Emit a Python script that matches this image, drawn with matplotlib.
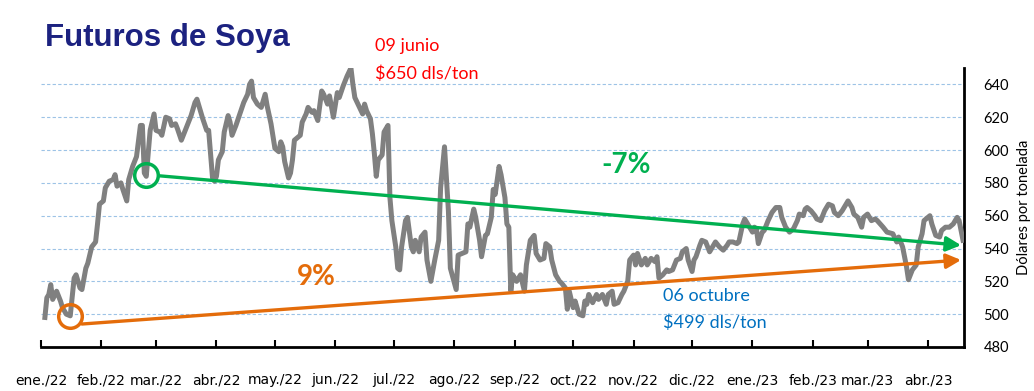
import matplotlib
matplotlib.use("Agg")
import matplotlib.pyplot as plt
import pandas as pd

# datos: dias desde 2022-01-01 y precio (dls/ton)
dias = [2, 3, 4, 5, 6, 8, 10, 11, 13, 15, 17, 18, 20, 21, 23, 24, 26, 28, 29, 30,
        32, 33, 35, 37, 38, 39, 41, 42, 44, 45, 47, 49, 51, 52, 53, 54, 56, 58, 59, 61,
        62, 64, 66, 67, 69, 70, 72, 74, 75, 77, 79, 80, 81, 83, 85, 86, 88, 89, 90, 91,
        93, 94, 96, 97, 98, 100, 102, 104, 106, 107, 108, 109, 111, 113, 115, 116, 118, 120, 122,
        123, 124, 125, 127, 128, 129, 130, 133, 134, 136, 137, 139, 140, 142, 144, 145, 147, 148,
        150, 152, 153, 155, 157, 159, 160, 161, 163, 165, 166, 167, 169, 170, 171, 172, 173, 175,
        176, 178, 179, 180, 182, 183,
        184, 185, 187, 188, 190, 191, 192, 194, 195, 197, 198, 200, 202, 204, 205, 207, 209, 210,
        213, 214, 216, 218, 219, 220, 222, 223, 225, 226, 228, 229, 231, 232, 233, 235, 236, 238,
        239, 240, 241, 242, 244, 246, 248, 249, 251, 253, 254, 256, 258, 259, 261, 262, 264, 266,
        267, 269, 270, 271, 273, 274, 276, 278, 279, 280, 281, 283, 285, 286, 288, 290, 291, 293,
        294, 296, 298, 299, 301, 302, 304, 305, 306, 308, 310, 311, 313, 315, 316, 317, 319, 321,
        322, 324, 326, 328, 329, 331, 332, 334, 335, 336, 338, 339, 341, 343, 345, 346, 348, 350,
        352, 353, 355, 357, 358, 360, 361, 363, 365, 366, 367, 368, 370, 371, 373, 375, 377, 379,
        380, 382, 384, 386, 388, 389, 391, 392, 393, 395, 397, 398, 400, 402, 404, 406, 407, 409,
        411, 412, 414, 416, 417, 419, 421, 422, 424, 426, 428, 429, 432, 434, 437, 439, 440, 442,
        444, 445, 447, 449, 450, 452, 453, 456, 457, 459, 461, 462, 464, 466, 468, 470, 471, 473]
precio = [498, 510, 512, 518, 509, 514, 508, 504, 500, 499, 522, 524, 516, 515, 528, 531, 541, 544, 555, 567,
          569, 577, 581, 582, 585, 578, 580, 576, 569, 582, 590, 596, 615, 615, 586, 584, 612, 622, 612, 611,
          609, 620, 619, 615, 616, 613, 606, 612, 615, 621, 629, 631, 627, 619, 612, 612, 583, 581, 584, 594,
          599, 611, 621, 617, 609, 615, 622, 629, 634, 640, 642, 632, 628, 626, 634, 627, 616, 601, 599,
          605, 602, 593, 583, 586, 594, 606, 609, 617, 622, 626, 623, 624, 618, 636, 634, 628, 633,
          620, 635, 632, 639, 645, 650, 640, 632, 627, 622, 628, 624, 619, 610, 598, 584, 594, 597,
          611, 615, 571, 557, 541, 528,
          527, 541, 557, 559, 541, 538, 545, 538, 547, 550, 533, 520, 533, 545, 577, 602, 563, 528,
          515, 536, 537, 538, 555, 553, 564, 559, 545, 535, 548, 549, 559, 576, 573, 590, 585, 571,
          555, 553, 514, 524, 520, 524, 514, 530, 545, 548, 537, 533, 534, 543, 541, 533, 524, 520,
          519, 516, 503, 514, 504, 508, 500, 499, 508, 506, 512, 507, 512, 509, 512, 506, 512, 514,
          506, 507, 512, 514, 520, 533, 536, 530, 537, 530, 534, 530, 534, 532, 535, 522, 524, 527,
          526, 527, 533, 534, 538, 540, 533, 526, 533, 535, 542, 545, 544, 538, 542, 544, 541, 539,
          542, 544, 544, 543, 544, 555, 558, 554, 550, 553, 552, 543, 550, 551, 557, 562, 565, 565,
          559, 553, 550, 552, 557, 561, 560, 564, 565, 563, 560, 558, 557, 563, 567, 566, 562, 560,
          563, 565, 569, 565, 561, 559, 553, 559, 561, 557, 558, 557, 553, 550, 549, 544, 547, 541,
          529, 521, 527, 530, 541, 549, 557, 560, 555, 548, 547, 551, 553, 553, 555, 559, 557, 545]

meses = ["ene./22", "feb./22", "mar./22", "abr./22", "may./22", "jun./22", "jul./22", "ago./22",
         "sep./22", "oct./22", "nov./22", "dic./22", "ene./23", "feb./23", "mar./23", "abr./23"]

# tendencias (dia, precio)
min_oct = (15, 499)
max_mar = (54, 585)
verde = [(54, 585), (472, 542)]
naranja = [(21, 494), (472, 533)]

inicio = pd.Timestamp("2022-01-01")
def fecha(d):
    return inicio + pd.Timedelta(days=d)

fechas = [fecha(d) for d in dias]

fig = plt.figure(figsize=(10.34, 3.91), dpi=100)
ax = fig.add_axes([41/1034, 1-347/391, 923/1034, 279/391])

ax.set_ylim(480, 650)
ax.set_xlim(fecha(0), fecha(473.5))
ax.set_yticks(range(480, 641, 20))
for v in range(500, 641, 20):
    ax.axhline(v, color="#9DC3E6", lw=0.8, ls=(0, (3, 2)), zorder=0)

ax.plot(fechas, precio, color="#808080", lw=3.6, solid_joinstyle="round", zorder=3)

# flechas de tendencia
ax.annotate("", xy=(fecha(verde[1][0]), verde[1][1]), xytext=(fecha(verde[0][0]), verde[0][1]),
            arrowprops=dict(arrowstyle="-|>", color="#00B050", lw=2.4, mutation_scale=22,
                            shrinkA=9, shrinkB=0), zorder=4)
ax.annotate("", xy=(fecha(naranja[1][0]), naranja[1][1]), xytext=(fecha(naranja[0][0]), naranja[0][1]),
            arrowprops=dict(arrowstyle="-|>", color="#E46C0A", lw=2.4, mutation_scale=22,
                            shrinkA=0, shrinkB=0), zorder=4)
ax.plot(fecha(max_mar[0]), max_mar[1], "o", ms=17, mfc="none", mec="#00B050", mew=2.5, zorder=5)
ax.plot(fecha(min_oct[0]), min_oct[1], "o", ms=17, mfc="none", mec="#E46C0A", mew=2.5, zorder=5)

ax.set_xticks([fecha(0) + pd.DateOffset(months=i) for i in range(len(meses))])
ax.set_xticklabels(meses, family=["Liberation Sans Narrow", "DejaVu Sans Condensed", "DejaVu Sans"],
                   fontsize=10)

for s in ["left", "top"]:
    ax.spines[s].set_visible(False)
ax.spines["right"].set_linewidth(2)
ax.spines["bottom"].set_linewidth(2)
ax.yaxis.tick_right()
ax.tick_params(axis="x", direction="in", length=5, width=1.5, pad=19)
ax.tick_params(axis="y", length=0, pad=14, labelsize=10.5)
for t in ax.get_yticklabels():
    t.set_family(["Lato", "DejaVu Sans"])

fig.text(1024/1034, 1-207/391, "Dólares por tonelada", rotation=90, ha="center", va="center",
         fontsize=10.5, family=["Lato", "DejaVu Sans"])

fig.text(45/1034, 1-38/391, "Futuros de Soya", color="#1C2280", fontsize=22.5, fontweight="bold",
         va="center", family=["Liberation Sans", "DejaVu Sans"])
fig.text(375/1034, 1-46/391, "09 junio", color="#FF0000", fontsize=13, va="center",
         family=["Lato", "DejaVu Sans"])
fig.text(375/1034, 1-74/391, "$650 dls/ton", color="#FF0000", fontsize=13, va="center",
         family=["Lato", "DejaVu Sans"])
fig.text(663/1034, 1-296/391, "06 octubre", color="#0070C0", fontsize=13, va="center",
         family=["Lato", "DejaVu Sans"])
fig.text(663/1034, 1-323/391, "$499 dls/ton", color="#0070C0", fontsize=13, va="center",
         family=["Lato", "DejaVu Sans"])
fig.text(626/1034, 1-165/391, "-7%", color="#00B050", fontsize=20, fontweight="bold",
         ha="center", va="center", family=["Lato", "DejaVu Sans"])
fig.text(316/1034, 1-277/391, "9%", color="#E46C0A", fontsize=20, fontweight="bold",
         ha="center", va="center", family=["Lato", "DejaVu Sans"])

fig.savefig("out.png", dpi=100)
